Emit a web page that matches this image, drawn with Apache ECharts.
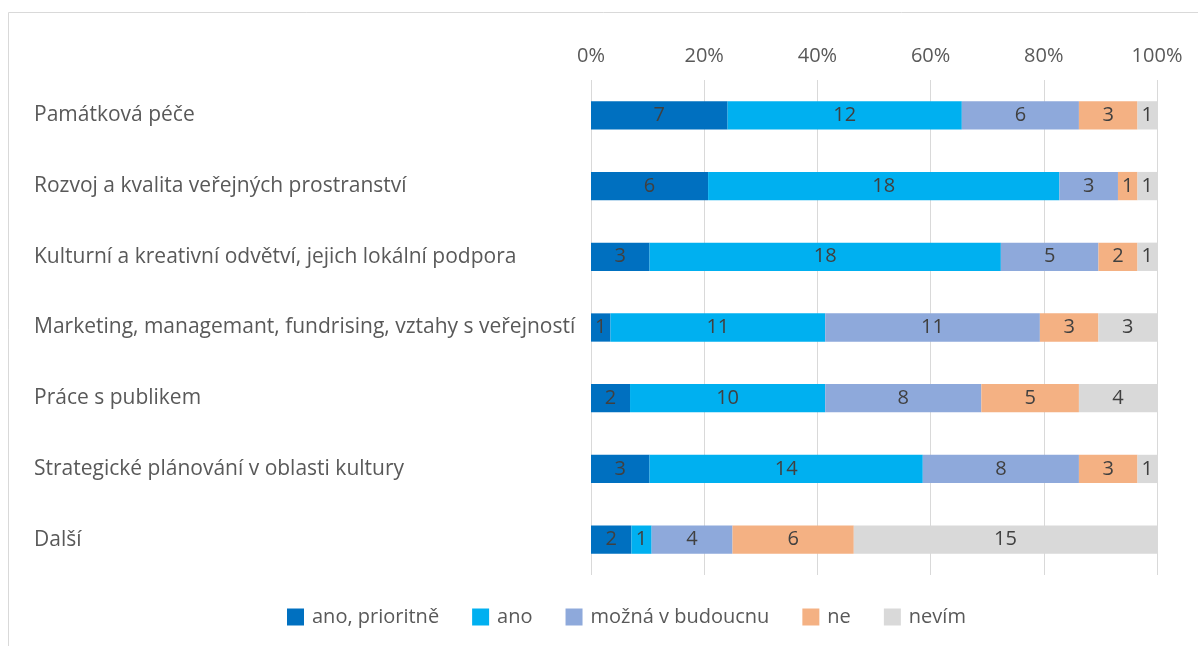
<!DOCTYPE html>
<html>
<head>
<meta charset="utf-8">
<script src="https://cdn.jsdelivr.net/npm/echarts@6/dist/echarts.min.js"></script>
<style>
html,body{margin:0;padding:0;background:#fff;}
#chart{width:1198px;height:646px;}
</style>
</head>
<body>
<div id="chart"></div>
<script>
const categories = [
  'Památková péče',
  'Rozvoj a kvalita veřejných prostranství',
  'Kulturní a kreativní odvětví, jejich lokální podpora',
  'Marketing, managemant, fundrising, vztahy s veřejností',
  'Práce s publikem',
  'Strategické plánování v oblasti kultury',
  'Další'
];
const seriesNames = ['ano, prioritně', 'ano', 'možná v budoucnu', 'ne', 'nevím'];
const anoPrioritne = [7, 6, 3, 1, 2, 3, 2];
const ano = [12, 18, 18, 11, 10, 14, 1];
const moznaVBudoucnu = [6, 3, 5, 11, 8, 8, 4];
const ne = [3, 1, 2, 3, 5, 3, 6];
const nevim = [1, 1, 1, 3, 4, 1, 15];
const tickValues = [0, 20, 40, 60, 80, 100];

const colors = ['#0070C0', '#00B0F0', '#8EA9DB', '#F4B183', '#D9D9D9'];
const allValues = [anoPrioritne, ano, moznaVBudoucnu, ne, nevim];
const totals = categories.map((c, i) => allValues.reduce((s, arr) => s + arr[i], 0));

const FONT = '"Open Sans", sans-serif';
const TXT = '#595959';

const series = allValues.map((arr, si) => ({
  name: seriesNames[si],
  type: 'bar',
  stack: 'total',
  barCategoryGap: '60%',
  itemStyle: { color: colors[si] },
  label: {
    show: true,
    position: 'inside',
    color: '#404040',
    fontFamily: FONT,
    fontSize: 20,
    formatter: p => p.data.raw
  },
  emphasis: { disabled: true },
  data: arr.map((v, i) => ({ value: v / totals[i] * 100, raw: v }))
}));

const chart = echarts.init(document.getElementById('chart'));
chart.setOption({
  animation: false,
  textStyle: { fontFamily: FONT },
  graphic: [{
    type: 'rect',
    shape: { x: 8.5, y: 12.5, width: 1300, height: 800 },
    style: { fill: 'none', stroke: '#D9D9D9', lineWidth: 1 },
    silent: true,
    z: -1
  }],
  grid: { left: 591, right: 41, top: 80, bottom: 71, containLabel: false },
  xAxis: {
    type: 'value',
    position: 'top',
    min: tickValues[0],
    max: tickValues[tickValues.length - 1],
    interval: 20,
    axisLine: { show: false },
    axisTick: { show: false },
    axisLabel: { formatter: '{value}%', color: TXT, fontSize: 20, fontFamily: FONT, margin: 14 },
    splitLine: { show: true, lineStyle: { color: '#D9D9D9', width: 1 } }
  },
  yAxis: {
    type: 'category',
    inverse: true,
    data: categories,
    axisLine: { show: false },
    axisTick: { show: false },
    axisLabel: { color: TXT, fontSize: 21, fontFamily: FONT, align: 'left', margin: 557 }
  },
  legend: {
    bottom: 14,
    left: 282,
    itemWidth: 17,
    itemHeight: 17,
    itemGap: 33,
    icon: 'rect',
    textStyle: { color: TXT, fontSize: 20, fontFamily: FONT, padding: [0, 0, 0, 3] },
    data: seriesNames
  },
  series: series
});
</script>
</body>
</html>
